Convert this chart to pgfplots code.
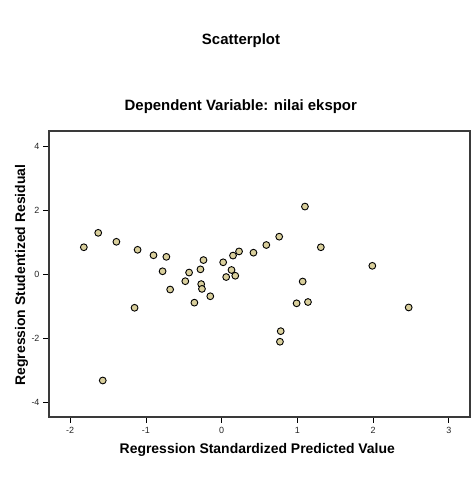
\documentclass[border=0pt]{standalone}
\usepackage{pgfplots}
\pgfplotsset{compat=1.18}
\usepackage{fontspec}
\setmainfont{Liberation Sans}
\definecolor{ptfill}{HTML}{D9CF9C}
\definecolor{axgray}{HTML}{3A3A3A}
\begin{document}
\begin{tikzpicture}[x=1bp,y=1bp]
\path[use as bounding box] (0,0) rectangle (474,477);
\begin{axis}[
  at={(49bp,60bp)}, anchor=south west,
  scale only axis, width=421bp, height=286bp,
  xmin=-2.28, xmax=3.28, ymin=-4.45, ymax=4.48,
  xtick={-2,-1,0,1,2,3}, ytick={-4,-2,0,2,4},
  axis line style={axgray, line width=1.6bp},
  tick align=outside, major tick length=6bp,
  tick style={black, line width=0.8bp},
  xtick pos=bottom, ytick pos=left,
  /pgf/number format/assume math mode=true,
  ticklabel style={font=\fontsize{9}{10}\selectfont, text=black!85},
  xticklabel style={yshift=-1bp},
  clip=false,
]
\addplot[only marks, mark=*, mark size=3.4bp, mark options={fill=ptfill, draw=black, line width=0.9bp}] coordinates {
(-1.82,0.85) (-1.63,1.30) (-1.39,1.02) (-1.11,0.77) (-0.90,0.60) (-0.73,0.55)
(-0.78,0.10) (-0.68,-0.47) (-1.15,-1.04) (-0.48,-0.21) (-0.43,0.06) (-0.36,-0.88)
(-0.28,0.16) (-0.24,0.45) (-0.27,-0.30) (-0.26,-0.45) (-0.15,-0.68) (0.02,0.38)
(0.06,-0.08) (0.13,0.14) (0.15,0.59) (0.18,-0.04) (0.23,0.72) (0.42,0.68)
(0.59,0.92) (0.76,1.18) (1.10,2.12) (1.31,0.85) (1.07,-0.22) (0.99,-0.90)
(1.14,-0.86) (1.99,0.27) (2.47,-1.03) (-1.57,-3.31) (0.78,-1.77) (0.77,-2.10)
};
\end{axis}
\node[anchor=base, font=\bfseries\fontsize{15}{17}\selectfont] at (241,432.7) {Scatterplot};
\node[anchor=base, font=\bfseries\fontsize{15}{17}\selectfont] at (240.8,366) {Dependent Variable: nilai ekspor};
\node[anchor=base, font=\bfseries\fontsize{14}{16}\selectfont] at (257.3,23) {Regression Standardized Predicted Value};
\node[anchor=base, rotate=90, font=\bfseries\fontsize{14}{16}\selectfont] at (25,202) {Regression Studentized Residual};
\end{tikzpicture}
\end{document}
